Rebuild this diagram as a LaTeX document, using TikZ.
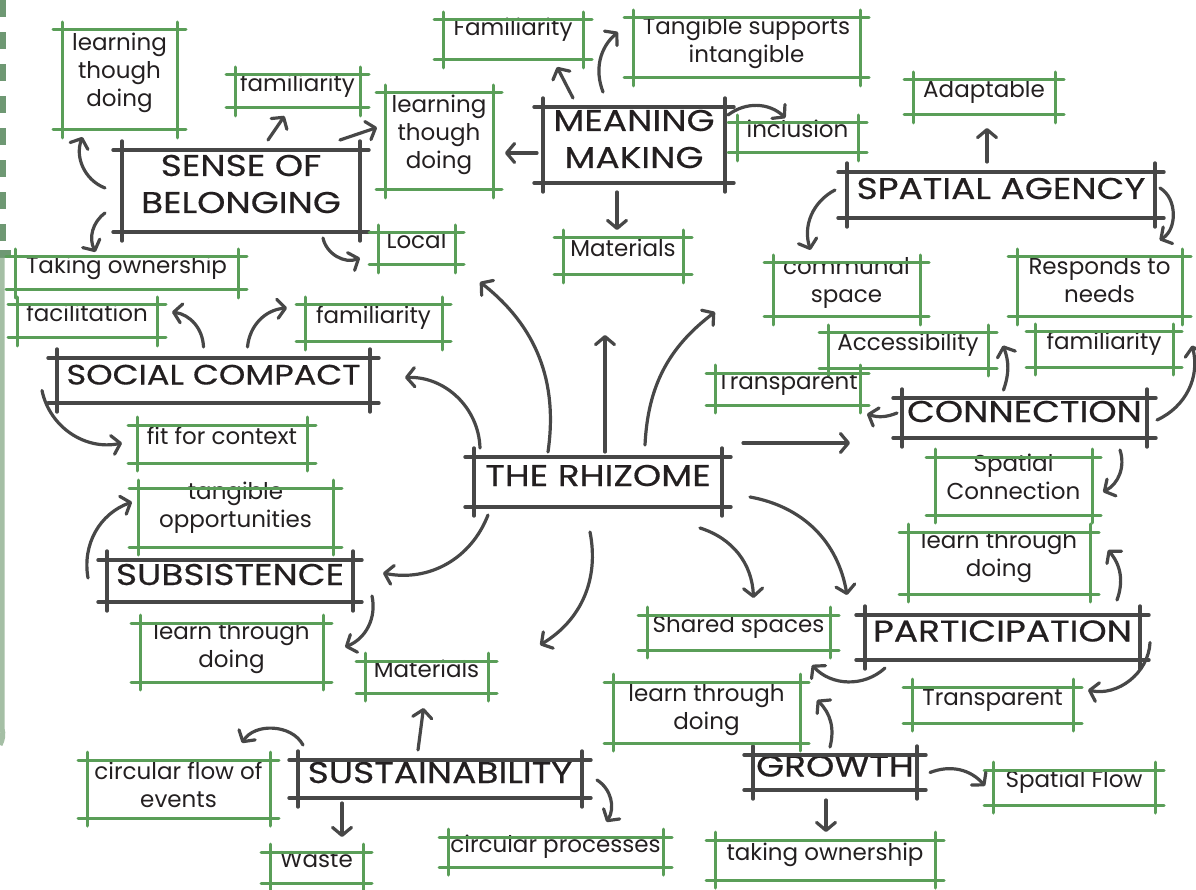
\documentclass[tikz,border=0pt]{standalone}
\usepackage{fontspec}
\setmainfont{Poppins}
\newfontfamily\hubfont{Poppins}[FakeStretch=1.2,FakeBold=0.5]
\usetikzlibrary{positioning,arrows.meta,calc}
\definecolor{boxgreen}{HTML}{5A9E58}
\definecolor{inkgray}{HTML}{474747}
\definecolor{textblack}{HTML}{231F20}
\definecolor{edgegreen}{HTML}{6E9873}
\definecolor{palegreen}{HTML}{A5BFA5}
\tikzset{
  gline/.style={draw=boxgreen,line width=3pt,line cap=round},
  hline/.style={draw=inkgray,line width=3.4pt,line cap=round},
  skbox/.style 2 args={inner sep=0pt,outer sep=0pt,minimum width=#1,minimum height=#2,
    align=center,text=textblack},
  % ---- sketched boxes: sides run past the corners ----
  gbox/.style 2 args={skbox={#1}{#2},font=\fontsize{23}{28}\selectfont,
    append after command={
      ([xshift=-9pt]\tikzlastnode.north west) edge[gline] ([xshift=9pt]\tikzlastnode.north east)
      ([xshift=-9pt]\tikzlastnode.south west) edge[gline] ([xshift=9pt]\tikzlastnode.south east)
      ([yshift=8pt]\tikzlastnode.north west) edge[gline] ([yshift=-8pt]\tikzlastnode.south west)
      ([yshift=8pt]\tikzlastnode.north east) edge[gline] ([yshift=-8pt]\tikzlastnode.south east)}},
  hbox/.style 2 args={skbox={#1}{#2},font=\hubfont\fontsize{30}{37}\selectfont,
    append after command={
      ([xshift=-9pt]\tikzlastnode.north west) edge[hline] ([xshift=9pt]\tikzlastnode.north east)
      ([xshift=-9pt]\tikzlastnode.south west) edge[hline] ([xshift=9pt]\tikzlastnode.south east)
      ([yshift=9pt]\tikzlastnode.north west) edge[hline] ([yshift=-9pt]\tikzlastnode.south west)
      ([yshift=9pt]\tikzlastnode.north east) edge[hline] ([yshift=-9pt]\tikzlastnode.south east)}},
  one/.style={text height=15pt,text depth=15pt},   % single line, sits high
  hone/.style={text height=16pt,text depth=8pt},
  lift/.style={text height=#1,text depth=0pt},      % several lines
  arr/.style={draw=inkgray,line width=3.2pt,line cap=round,
    -{Straight Barb[round,length=8pt,width=19pt]}},
}
\begin{document}
\begin{tikzpicture}[x=1pt,y=-1pt]
  \useasboundingbox (0,0) rectangle (1196,890);
  % left edge strip
  \foreach \y in {0,32,...,224}
    \fill[edgegreen] (0,\y) rectangle (6,\y+17);
  \fill[edgegreen] (0,250) rectangle (11,258);
  \draw[palegreen,line width=5pt] (2,258) -- (2,728) to[bend left=20] (0,745);

  % hubs
  \node[hbox={248pt}{50pt},hone] (rhizome) at (598,482) {THE RHIZOME};
  \node[hbox={238pt}{82pt},lift=44pt] (sense) at (241,191) {SENSE OF\\BELONGING};
  \node[hbox={182pt}{76pt},lift=46pt] (meaning) at (634,145) {MEANING\\MAKING};
  \node[hbox={313pt}{45pt},hone,font=\hubfont\fontsize{28}{34}\selectfont] (social) at (213.5,380.5) {SOCIAL COMPACT};
  \node[hbox={246pt}{42pt},hone] (subsist) at (230,581) {SUBSISTENCE};
  \node[hbox={308pt}{46pt},hone] (spatial) at (1001,195) {SPATIAL AGENCY};
  \node[hbox={245pt}{40pt},hone] (connect) at (1024.5,418) {CONNECTION};
  \node[hbox={275pt}{45pt},hone] (particip) at (1002.5,637.5) {PARTICIPATION};
  \node[hbox={164pt}{35pt},hone] (growth) at (835,772.5) {GROWTH};
  \node[hbox={284pt}{38pt},hone] (sustain) at (440,779) {SUSTAINABILITY};

  % leaves
  \node[gbox={115pt}{100pt},lift=54pt] (learnA) at (119.5,80) {learning\\though\\doing};
  \node[gbox={125pt}{33pt},one] (famA) at (297.5,91.5) {familiarity};
  \node[gbox={108pt}{97pt},lift=55pt] (learnB) at (439,141.5) {learning\\though\\doing};
  \node[gbox={77pt}{32pt},one] (local) at (416.5,249) {Local};
  \node[gbox={223pt}{33pt},one] (takeA) at (126.5,273.5) {Taking ownership};
  \node[gbox={140pt}{33pt},one] (facil) at (87,321.5) {facilitation};
  \node[gbox={137pt}{37pt},one] (famB) at (373.5,323.5) {familiarity};
  \node[gbox={170pt}{38pt},one] (fit) at (222,444) {fit for context};
  \node[gbox={195pt}{59pt},lift=20pt] (tang) at (235.5,517.5) {tangible\\opportunities};
  \node[gbox={183pt}{59pt},lift=30pt] (learnC) at (231.5,652.5) {learn through\\doing};
  \node[gbox={123pt}{32pt},one] (matA) at (426.5,677) {Materials};
  \node[gbox={140pt}{40pt},text height=0pt,text depth=8pt] (famC) at (513,40) {Familiarity};
  \node[gbox={227pt}{60pt},lift=29pt] (tangS) at (746.5,48) {Tangible supports\\intangible};
  \node[gbox={121pt}{30pt},one] (incl) at (797.5,138) {inclusion};
  \node[gbox={120pt}{37pt},one] (matB) at (623,256.5) {Materials};
  \node[gbox={142pt}{35pt},one] (adapt) at (984,97.5) {Adaptable};
  \node[gbox={147pt}{54pt},lift=25pt] (comm) at (846.5,290) {communal\\space};
  \node[gbox={165pt}{60pt},lift=31pt] (resp) at (1099.5,287) {Responds to\\needs};
  \node[gbox={160pt}{35pt},one] (access) at (908,350.5) {Accessibility};
  \node[gbox={138pt}{35pt},one] (famD) at (1104,349.5) {familiarity};
  \node[gbox={145pt}{32pt},one] (transA) at (787.5,389) {Transparent};
  \node[gbox={157pt}{58pt},lift=26pt] (spconn) at (1013.5,486) {Spatial\\Connection};
  \node[gbox={182pt}{62pt},lift=26pt] (learnD) at (999,563) {learn through\\doing};
  \node[gbox={183pt}{35pt},one] (shared) at (738.5,632.5) {Shared spaces};
  \node[gbox={161pt}{36pt},one] (transB) at (992.5,705) {Transparent};
  \node[gbox={187pt}{61pt},lift=33pt] (learnE) at (706.5,712.5) {learn through\\doing};
  \node[gbox={162pt}{35pt},one] (flow) at (1074,787.5) {Spatial Flow};
  \node[gbox={220pt}{40pt},one] (takeB) at (825,860) {taking ownership};
  \node[gbox={183pt}{58pt},lift=36pt] (circF) at (178.5,789) {circular flow of\\events};
  \node[gbox={93pt}{31pt},one] (waste) at (316.5,867.5) {Waste};
  \node[gbox={215pt}{30pt},one] (circP) at (555.5,852) {circular processes};

  % loose arrow ends
  \coordinate (toSense) at (480,282);
  \coordinate (toMid) at (605,335);
  \coordinate (toMean) at (715,312);
  \coordinate (toConn) at (850,443);
  \coordinate (toMat) at (540,645);

  % out of the rhizome
  \draw[arr] ($(rhizome.north)+(-50,-5)$) to[bend right=30] (toSense);
  \draw[arr] ($(rhizome.north)+(7,-5)$) -- (toMid);
  \draw[arr] ($(rhizome.north)+(47,-12)$) to[bend left=25] (toMean);
  \draw[arr] ($(rhizome.north west)+(6,-9)$) to[bend right=45] ($(social.east)+(35,-3)$);
  \draw[arr] ($(rhizome.east)+(21,-39)$) -- (toConn);
  \draw[arr] ($(rhizome.south west)+(14,8)$) to[bend left=40] ($(subsist.east)+(30,-8)$);
  \draw[arr] ($(rhizome.south)+(-8,25)$) to[bend left=35] (toMat);
  \draw[arr] ($(rhizome.south east)+(-22,21)$) to[bend left=35] ($(shared.north)+(15,-17)$);
  \draw[arr] ($(rhizome.east)+(28,15)$) to[bend left=35] ($(particip.north west)+(-18,-20)$);

  \draw[arr] ($(sense.west)+(-17,-3)$) to[bend left=45] ($(learnA.south)+(-37,7)$);
  \draw[arr] ($(sense.west)+(-17,22)$) to[bend right=40] ($(takeA.north)+(-31,-5)$);
  \draw[arr] ($(sense.north)+(27,-10)$) -- ($(famA.south)+(-13,8)$);
  \draw[arr] ($(sense.north east)+(-20,-10)$) -- ($(learnB.west)+(-8,-14)$);
  \draw[arr] ($(sense.south east)+(-37,6)$) to[bend right=50] ($(local.west)+(-18,9)$);

  \draw[arr] ($(meaning.west)+(-6,8)$) -- ($(learnB.east)+(12,11.5)$);
  \draw[arr] ($(meaning.north)+(-61,-9)$) -- ($(famC.south)+(44,7)$);
  \draw[arr] ($(meaning.north)+(-31,-15)$) to[bend left=35] ($(tangS.west)+(-15,-16)$);
  \draw[arr] ($(meaning.north east)+(3,8)$) to[bend left=40] ($(incl.north)+(-12,-5)$);
  \draw[arr] ($(meaning.south)+(-17,9)$) -- ($(matB.north)+(-6,-8)$);

  \draw[arr] ($(spatial.north)+(-14,-10)$) -- ($(adapt.south)+(3,13)$);
  \draw[arr] ($(spatial.west)+(-12,-5)$) to[bend right=40] ($(comm.north)+(-36,-13)$);
  \draw[arr] ($(spatial.east)+(5,-7)$) to[bend left=60] ($(resp.north)+(60,-17)$);

  \draw[arr] ($(connect.north)+(-21,-8)$) to[bend right=20] ($(access.east)+(15,-5)$);
  \draw[arr] ($(connect.east)+(10,2)$) to[bend right=40] ($(famD.east)+(19,-4)$);
  \draw[arr] ($(connect.west)+(-5,-5)$) to[bend left=20] ($(transA.east)+(7,25)$);
  \draw[arr] ($(connect.south east)+(-27,12)$) to[bend left=40] ($(spconn.east)+(11,6)$);

  \draw[arr] ($(particip.north east)+(-23,-15)$) to[bend right=30] ($(learnD.east)+(18,-13)$);
  \draw[arr] ($(particip.south west)+(20,8)$) to[bend left=45] ($(shared.south east)+(-18,15)$);
  \draw[arr] ($(particip.east)+(10,5)$) to[bend left=50] ($(transB.east)+(15,-15)$);

  \draw[arr] ($(growth.north)+(-5,-8)$) to[bend right=30] ($(learnE.east)+(17,-12.5)$);
  \draw[arr] ($(growth.east)+(13,0)$) to[bend left=35] ($(flow.west)+(-8,-1.5)$);
  \draw[arr] ($(growth.south)+(-9,10)$) -- ($(takeB.north)+(1,-8)$);

  \draw[arr] ($(social.north)+(-10,-11)$) to[bend right=40] ($(facil.east)+(15,-9.5)$);
  \draw[arr] ($(social.north)+(34,-11)$) to[bend left=40] ($(famB.west)+(-18,-15.5)$);
  \draw[arr] ($(social.west)+(-15,10)$) to[bend right=45] ($(fit.west)+(-15,-1)$);

  \draw[arr] ($(subsist.west)+(-19,-3)$) to[bend left=40] ($(tang.west)+(-6,-15.5)$);
  \draw[arr] ($(subsist.east)+(19,15)$) to[bend left=40] ($(learnC.east)+(22,-5.5)$);

  \draw[arr] ($(sustain.north)+(-22,-10)$) -- ($(matA.south)+(-3,15)$);
  \draw[arr] ($(sustain.north west)+(5,-15)$) to[bend right=60] ($(circF.north east)+(-28,-17)$);
  \draw[arr] ($(sustain.south)+(-98,5)$) -- ($(waste.north)+(25.5,-15)$);
  \draw[arr] ($(sustain.east)+(15,1)$) to[bend left=45] ($(circP.north)+(51,-15)$);
\end{tikzpicture}
\end{document}
